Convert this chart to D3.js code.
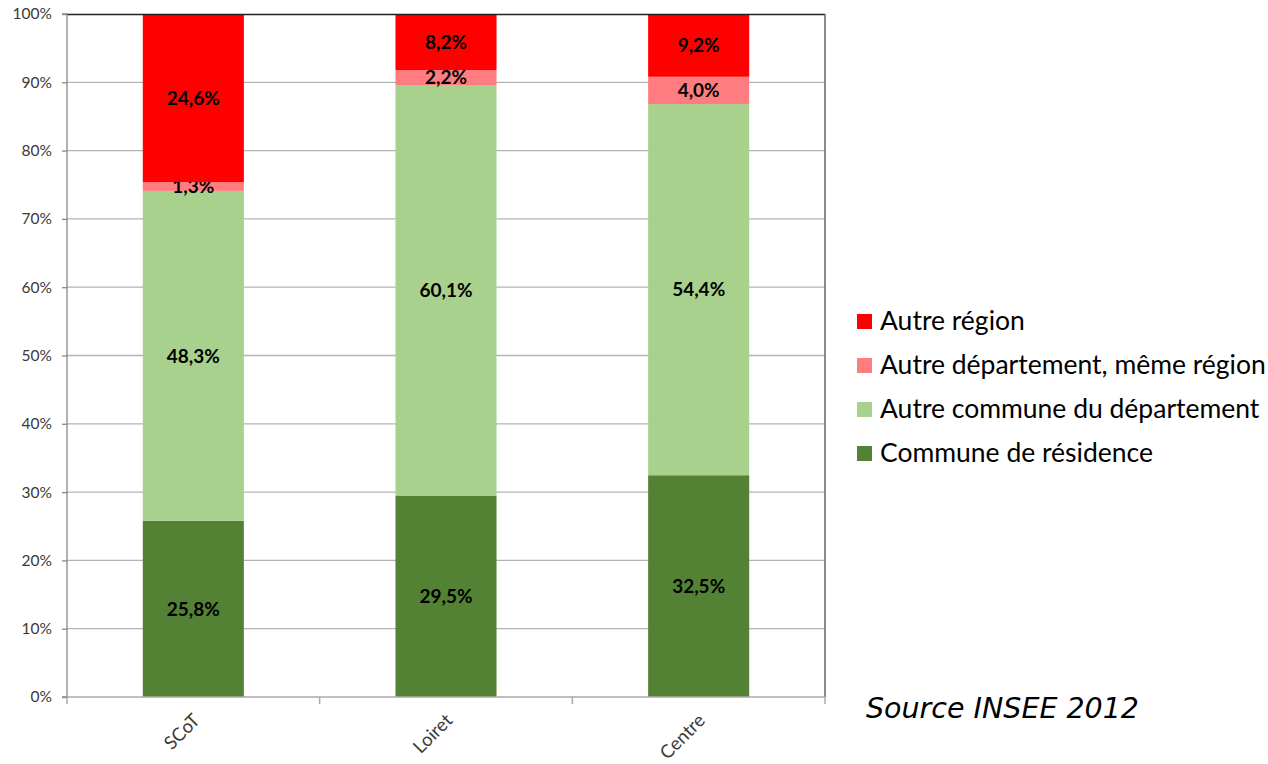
<!DOCTYPE html>
<html>
<head>
<meta charset="utf-8">
<script src="https://cdn.jsdelivr.net/npm/d3@7"></script>
<style>
  html, body { margin: 0; padding: 0; background: #fff; }
  svg { display: block; }
</style>
</head>
<body>
<svg id="chart" width="1268" height="764"></svg>
<script>
// Lieu de travail des actifs, par territoire (part en %)
const categories = ["SCoT", "Loiret", "Centre"];
const seriesNames = [
  "Commune de résidence",
  "Autre commune du département",
  "Autre département, même région",
  "Autre région"
];
const communeResidence   = [25.8, 29.5, 32.5];
const autreCommuneDept   = [48.3, 60.1, 54.4];
const autreDeptMemeReg   = [1.3, 2.2, 4.0];
const autreRegion        = [24.6, 8.2, 9.2];
const yTickLabels = ["0%", "10%", "20%", "30%", "40%", "50%", "60%", "70%", "80%", "90%", "100%"];

const seriesValues = [communeResidence, autreCommuneDept, autreDeptMemeReg, autreRegion];
const colors = ["#548235", "#A9D18E", "#FF7C80", "#FF0000"];

const rows = categories.map((c, i) => {
  const r = { cat: c };
  seriesNames.forEach((s, k) => { r[s] = seriesValues[k][i]; });
  return r;
});

const svg = d3.select("#chart");
const W = 1268, H = 764;
const margin = { left: 67, right: W - 825, top: 14, bottom: H - 697 };
const plotW = W - margin.left - margin.right;
const plotH = H - margin.top - margin.bottom;
const uiFont = "Lato, 'Open Sans', sans-serif";

const x = d3.scaleBand().domain(categories).range([0, plotW]).paddingInner(0.6).paddingOuter(0.3);
const y = d3.scaleLinear().domain([0, 1]).range([plotH, 0]);

const g = svg.append("g").attr("transform", `translate(${margin.left},${margin.top})`);

// horizontal gridlines
g.append("g").selectAll("line")
  .data(d3.range(1, 10).map(v => v / 10))
  .join("line")
  .attr("x1", 0).attr("x2", plotW)
  .attr("y1", d => y(d)).attr("y2", d => y(d))
  .attr("stroke", "#b3b3b3").attr("stroke-width", 1.3);

// stacked bars (100%)
const stack = d3.stack().keys(seriesNames).offset(d3.stackOffsetExpand);
const layers = stack(rows);

const layerG = g.selectAll("g.layer").data(layers).join("g")
  .attr("class", "layer")
  .attr("fill", (d, i) => colors[i]);

layerG.selectAll("rect").data(d => d).join("rect")
  .attr("x", d => x(d.data.cat))
  .attr("width", x.bandwidth())
  .attr("y", d => y(d[1]))
  .attr("height", d => y(d[0]) - y(d[1]));

// value labels
const fmt = v => v.toFixed(1).replace(".", ",") + "%";
layerG.each(function (layer) {
  d3.select(this).selectAll("text").data(layer).join("text")
    .attr("x", d => x(d.data.cat) + x.bandwidth() / 2)
    .attr("y", d => (y(d[0]) + y(d[1])) / 2)
    .attr("dy", "0.36em")
    .attr("text-anchor", "middle")
    .attr("font-family", uiFont)
    .attr("font-weight", "bold")
    .attr("font-size", 19)
    .attr("fill", "#000")
    .text(d => fmt(d.data[layer.key]));
});

// plot frame: top and right edges
g.append("line").attr("x1", 0).attr("x2", plotW).attr("y1", 0.5).attr("y2", 0.5)
  .attr("stroke", "#222").attr("stroke-width", 1.5);
g.append("line").attr("x1", plotW).attr("x2", plotW).attr("y1", 0).attr("y2", plotH)
  .attr("stroke", "#666").attr("stroke-width", 1.5);

// y axis
const yAxis = d3.axisLeft(y)
  .tickValues(d3.range(0, 11).map(v => v / 10))
  .tickFormat((d, i) => yTickLabels[i])
  .tickSize(5).tickPadding(10);
const yAx = g.append("g").call(yAxis);
yAx.select(".domain").attr("stroke", "#888").attr("stroke-width", 1.3).attr("d", `M-5,${plotH}H0V0H-5`);
yAx.selectAll(".tick line").attr("stroke", "#888").attr("stroke-width", 1.3);
yAx.selectAll(".tick text")
  .attr("font-family", uiFont)
  .attr("font-size", 15.5).attr("fill", "#3a3a3a");

// x axis: baseline with ticks at category boundaries
const xAx = g.append("g").attr("transform", `translate(0,${plotH})`);
xAx.append("line").attr("x1", 0).attr("x2", plotW).attr("stroke", "#aaa").attr("stroke-width", 1.5);
xAx.selectAll("line.tk")
  .data(d3.range(0, categories.length + 1).map(i => i * plotW / categories.length))
  .join("line").attr("class", "tk")
  .attr("x1", d => d).attr("x2", d => d).attr("y1", 0).attr("y2", 7)
  .attr("stroke", "#aaa").attr("stroke-width", 1.5);
xAx.selectAll("text").data(categories).join("text")
  .attr("transform", d => `translate(${x(d) + x.bandwidth() / 2 + 3},${20}) rotate(-45)`)
  .attr("text-anchor", "end")
  .attr("dy", "0.35em")
  .attr("font-family", uiFont)
  .attr("font-size", 18.5).attr("fill", "#3a3a3a")
  .text(d => d);

// legend (top entry = top of stack)
const legendItems = seriesNames.map((s, i) => ({ name: s, color: colors[i] })).reverse();
const lg = svg.append("g").attr("transform", "translate(857,321)");
const li = lg.selectAll("g").data(legendItems).join("g")
  .attr("transform", (d, i) => `translate(0,${i * 44})`);
li.append("rect").attr("x", 0).attr("y", -7).attr("width", 15).attr("height", 15)
  .attr("fill", d => d.color);
li.append("text").attr("x", 23).attr("y", 0).attr("dy", "0.35em")
  .attr("font-family", uiFont)
  .attr("font-size", 26.5).attr("fill", "#000")
  .text(d => d.name);

// source note
svg.append("text")
  .attr("x", 866).attr("y", 718)
  .attr("font-family", "'DejaVu Sans', Verdana, sans-serif")
  .attr("font-style", "italic")
  .attr("font-size", 28.5).attr("fill", "#000")
  .text("Source INSEE 2012");
</script>
</body>
</html>
